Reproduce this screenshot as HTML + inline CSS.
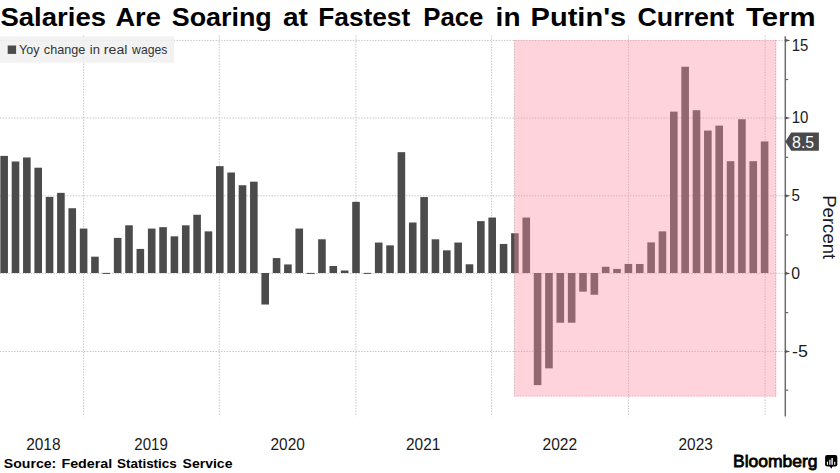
<!DOCTYPE html>
<html><head><meta charset="utf-8"><style>
html,body{margin:0;padding:0;background:#fff;}
body{width:840px;height:473px;overflow:hidden;}
svg{display:block;font-family:"Liberation Sans",sans-serif;}
</style></head><body>
<svg width="840" height="473" viewBox="0 0 840 473">
<rect width="840" height="473" fill="#fff"/>
<g font-size="26" font-weight="bold" fill="#000" ><text transform="translate(0.46,25.7) scale(1.0587,1)">Salaries</text><text transform="translate(115.46,25.7) scale(1.0479,1)">Are</text><text transform="translate(171.72,25.7) scale(1.0345,1)">Soaring</text><text transform="translate(282.94,25.7) scale(1.0795,1)">at</text><text transform="translate(318.23,25.7) scale(1.0112,1)">Fastest</text><text transform="translate(423.27,25.7) scale(0.9914,1)">Pace</text><text transform="translate(495.62,25.7) scale(1.0759,1)">in</text><text transform="translate(530.54,25.7) scale(1.1178,1)">Putin's</text><text transform="translate(637.47,25.7) scale(1.0297,1)">Current</text><text transform="translate(745.97,25.7) scale(1.1297,1)">Term</text></g>
<g stroke="#c4c4c4" stroke-width="1" stroke-dasharray="1.4,1.4" fill="none"><line x1="83.6" y1="35.5" x2="83.6" y2="416.5"/><line x1="219.3" y1="35.5" x2="219.3" y2="416.5"/><line x1="355.9" y1="35.5" x2="355.9" y2="416.5"/><line x1="491.6" y1="35.5" x2="491.6" y2="416.5"/><line x1="628.5" y1="35.5" x2="628.5" y2="416.5"/><line x1="765.1" y1="35.5" x2="765.1" y2="416.5"/><line x1="0" y1="40.40" x2="785" y2="40.40"/><line x1="0" y1="118.00" x2="785" y2="118.00"/><line x1="0" y1="195.80" x2="785" y2="195.80"/><line x1="0" y1="273.40" x2="785" y2="273.40"/><line x1="0" y1="351.50" x2="785" y2="351.50"/><line x1="514.5" y1="40" x2="514.5" y2="396.5"/><line x1="775.5" y1="40" x2="775.5" y2="396.5"/></g>
<g fill="#4b4b4b"><rect x="0.35" y="155.89" width="7.6" height="117.11"/><rect x="11.70" y="161.48" width="7.6" height="111.52"/><rect x="23.05" y="157.45" width="7.6" height="115.55"/><rect x="34.40" y="167.70" width="7.6" height="105.30"/><rect x="45.75" y="196.89" width="7.6" height="76.11"/><rect x="57.10" y="192.85" width="7.6" height="80.15"/><rect x="68.45" y="208.23" width="7.6" height="64.77"/><rect x="79.80" y="228.57" width="7.6" height="44.43"/><rect x="91.15" y="256.68" width="7.6" height="16.32"/><rect x="102.50" y="272.90" width="7.6" height="1.00"/><rect x="113.85" y="237.89" width="7.6" height="35.11"/><rect x="125.20" y="225.31" width="7.6" height="47.69"/><rect x="136.55" y="248.92" width="7.6" height="24.08"/><rect x="147.90" y="228.57" width="7.6" height="44.43"/><rect x="159.25" y="227.18" width="7.6" height="45.82"/><rect x="170.60" y="236.34" width="7.6" height="36.66"/><rect x="181.95" y="225.31" width="7.6" height="47.69"/><rect x="193.30" y="214.75" width="7.6" height="58.25"/><rect x="204.65" y="231.37" width="7.6" height="41.63"/><rect x="216.00" y="166.14" width="7.6" height="106.86"/><rect x="227.35" y="172.51" width="7.6" height="100.49"/><rect x="238.70" y="185.24" width="7.6" height="87.76"/><rect x="250.05" y="181.67" width="7.6" height="91.33"/><rect x="261.40" y="273.00" width="7.6" height="31.53"/><rect x="272.75" y="258.08" width="7.6" height="14.92"/><rect x="284.10" y="264.45" width="7.6" height="8.55"/><rect x="295.45" y="228.57" width="7.6" height="44.43"/><rect x="306.80" y="272.90" width="7.6" height="1.00"/><rect x="318.15" y="239.29" width="7.6" height="33.71"/><rect x="329.50" y="266.00" width="7.6" height="7.00"/><rect x="340.85" y="270.50" width="7.6" height="2.50"/><rect x="352.20" y="201.86" width="7.6" height="71.14"/><rect x="363.55" y="272.90" width="7.6" height="1.00"/><rect x="374.90" y="242.55" width="7.6" height="30.45"/><rect x="386.25" y="245.35" width="7.6" height="27.65"/><rect x="397.60" y="152.17" width="7.6" height="120.83"/><rect x="408.95" y="222.52" width="7.6" height="50.48"/><rect x="420.30" y="197.05" width="7.6" height="75.95"/><rect x="431.65" y="239.29" width="7.6" height="33.71"/><rect x="443.00" y="250.32" width="7.6" height="22.68"/><rect x="454.35" y="242.55" width="7.6" height="30.45"/><rect x="465.70" y="264.29" width="7.6" height="8.71"/><rect x="477.05" y="221.12" width="7.6" height="51.88"/><rect x="488.40" y="217.55" width="7.6" height="55.45"/><rect x="499.75" y="243.95" width="7.6" height="29.05"/><rect x="511.10" y="233.23" width="7.6" height="39.77"/><rect x="522.45" y="217.55" width="7.6" height="55.45"/><rect x="533.80" y="273.00" width="7.6" height="112.13"/><rect x="545.15" y="273.00" width="7.6" height="95.35"/><rect x="556.50" y="273.00" width="7.6" height="49.70"/><rect x="567.85" y="273.00" width="7.6" height="49.70"/><rect x="579.20" y="273.00" width="7.6" height="18.64"/><rect x="590.55" y="273.00" width="7.6" height="21.74"/><rect x="601.90" y="266.78" width="7.6" height="6.22"/><rect x="613.25" y="268.95" width="7.6" height="4.05"/><rect x="624.60" y="263.98" width="7.6" height="9.02"/><rect x="635.95" y="263.98" width="7.6" height="9.02"/><rect x="647.30" y="242.40" width="7.6" height="30.60"/><rect x="658.65" y="231.37" width="7.6" height="41.63"/><rect x="670.00" y="111.63" width="7.6" height="161.37"/><rect x="681.35" y="66.75" width="7.6" height="206.25"/><rect x="692.70" y="110.23" width="7.6" height="162.76"/><rect x="704.05" y="130.58" width="7.6" height="142.42"/><rect x="715.40" y="125.61" width="7.6" height="147.39"/><rect x="726.75" y="161.17" width="7.6" height="111.83"/><rect x="738.10" y="119.24" width="7.6" height="153.76"/><rect x="749.45" y="161.17" width="7.6" height="111.83"/><rect x="760.80" y="141.45" width="7.6" height="131.55"/></g>
<rect x="514.2" y="40" width="262.2" height="356.6" fill="rgb(255,145,165)" fill-opacity="0.4"/>
<g fill="none" stroke-width="1" stroke-dasharray="1.4,1.4">
<line x1="514.2" y1="395.9" x2="776.4" y2="395.9" stroke="#f9b3c3"/>
</g>
<rect x="0" y="36.4" width="174.1" height="26.3" fill="#f0f0f0" fill-opacity="0.85"/>
<rect x="7.7" y="45.5" width="8.4" height="8.4" fill="#4b4b4b"/>
<g font-size="12.5" font-weight="normal" fill="#333" ><text transform="translate(19.05,54.2) scale(1.0,1)">Yoy</text><text transform="translate(43.84,54.2) scale(1.0112,1)">change</text><text transform="translate(89.82,54.2) scale(1.0424,1)">in</text><text transform="translate(103.85,54.2) scale(1.1325,1)">real</text><text transform="translate(132.1,54.2) scale(0.9762,1)">wages</text></g>
<line x1="785.3" y1="36.2" x2="785.3" y2="416.5" stroke="#6e6e6e" stroke-width="1.5"/>
<g fill="#555"><path d="M785 38.80 L790.3 40.40 L785 42.00Z"/><path d="M785 116.40 L790.3 118.00 L785 119.60Z"/><path d="M785 194.20 L790.3 195.80 L785 197.40Z"/><path d="M785 271.80 L790.3 273.40 L785 275.00Z"/><path d="M785 349.90 L790.3 351.50 L785 353.10Z"/></g>
<g stroke="#666" stroke-width="1.2"><line x1="785" y1="79.50" x2="788.2" y2="79.50"/><line x1="785" y1="157.30" x2="788.2" y2="157.30"/><line x1="785" y1="235.00" x2="788.2" y2="235.00"/><line x1="785" y1="312.60" x2="788.2" y2="312.60"/><line x1="785" y1="390.20" x2="788.2" y2="390.20"/></g>
<text transform="translate(791.73,50.6) scale(0.9333,1)" font-size="16" fill="#1a1a1a">15</text><text transform="translate(791.73,123.3) scale(0.9375,1)" font-size="16" fill="#1a1a1a">10</text><text transform="translate(791.59,201.0) scale(0.9467,1)" font-size="16" fill="#1a1a1a">5</text><text transform="translate(791.36,278.6) scale(0.9867,1)" font-size="16" fill="#1a1a1a">0</text><text transform="translate(792.06,357.0) scale(1.1137,1)" font-size="16" fill="#1a1a1a">-5</text>
<path d="M785.4 141.6 L791.2 132.4 L818.9 132.4 L818.9 150.7 L791.2 150.7 Z" fill="#4a4a4a"/>
<text transform="translate(792.06,148.2) scale(0.9857,1)" font-size="16.2" fill="#fff">8.5</text>
<text transform="translate(822.6,195.2) rotate(90)" font-size="18.2" fill="#1a1a1a" textLength="64" lengthAdjust="spacingAndGlyphs">Percent</text>
<text transform="translate(26.18,450) scale(0.9664,1)" font-size="16" fill="#1a1a1a">2018</text><text transform="translate(134.29,450) scale(0.9412,1)" font-size="16" fill="#1a1a1a">2019</text><text transform="translate(270.53,450) scale(0.9635,1)" font-size="16" fill="#1a1a1a">2020</text><text transform="translate(406.03,450) scale(0.9632,1)" font-size="16" fill="#1a1a1a">2021</text><text transform="translate(542.52,450) scale(0.9706,1)" font-size="16" fill="#1a1a1a">2022</text><text transform="translate(678.53,450) scale(0.9632,1)" font-size="16" fill="#1a1a1a">2023</text>
<g font-size="13.5" font-weight="bold" fill="#000" ><text transform="translate(3.78,467.9) scale(1.0454,1)">Source:</text><text transform="translate(61.44,467.9) scale(1.0598,1)">Federal</text><text transform="translate(117.0,467.9) scale(0.9958,1)">Statistics</text><text transform="translate(182.58,467.9) scale(1.0383,1)">Service</text></g>
<g font-size="16.6" font-weight="normal" fill="#000" stroke="#000" stroke-width="0.75"><text transform="translate(732.98,467.0) scale(1.0538,1)">Bloomberg</text></g>
<g>
<rect x="825.1" y="455.1" width="12.2" height="11.4" rx="2" fill="#000"/>
<path d="M829.6 466 L831.2 468.8 L832.8 466Z" fill="#000"/>
<rect x="826.9" y="461.7" width="1.1" height="3.1" fill="#fff"/>
<rect x="829.3" y="459.7" width="1.2" height="5.1" fill="#fff"/>
<rect x="831.4" y="458" width="1.4" height="6.8" fill="#fff"/>
<rect x="834.2" y="461.7" width="1.1" height="3.1" fill="#fff"/>
</g>
</svg>
</body></html>
